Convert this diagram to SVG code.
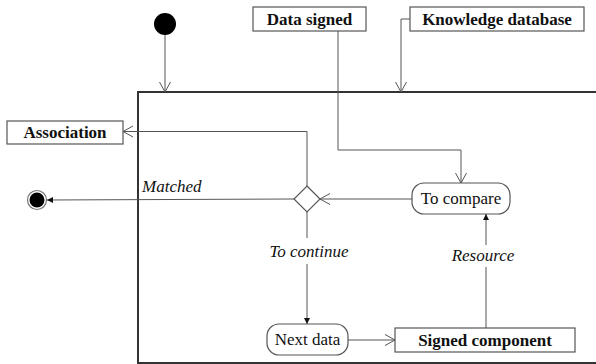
<svg xmlns="http://www.w3.org/2000/svg" width="596" height="364" viewBox="0 0 596 364">
<defs>
<style>
text{font-family:"Liberation Serif","Times New Roman",serif;font-size:17px;fill:#111}
.b{font-weight:bold}
.i{font-style:italic}
.box{fill:#fff;stroke:#555;stroke-width:1.2}
.con{fill:none;stroke:#555;stroke-width:1}
</style>
<marker id="open" markerWidth="14" markerHeight="14" refX="11" refY="6" orient="auto" markerUnits="userSpaceOnUse">
<path d="M1,0.5 L11,6 L1,11.5" fill="none" stroke="#555" stroke-width="1"/>
</marker>
<marker id="fill" markerWidth="8" markerHeight="8" refX="6" refY="3.5" orient="auto" markerUnits="userSpaceOnUse">
<path d="M0,0.5 L6,3.5 L0,6.5 Z" fill="#111"/>
</marker>
</defs>
<rect x="138" y="92" width="470" height="271" fill="none" stroke="#333" stroke-width="2"/>
<g id="start"><circle cx="165" cy="24" r="11" fill="#000"/></g>
<g id="end"><circle cx="37" cy="200" r="9.5" fill="#fff" stroke="#777" stroke-width="1.2"/><circle cx="37" cy="200" r="7.5" fill="#000"/></g>
<g id="data-signed"><rect class="box" x="253" y="7" width="113" height="24"/><text class="b" x="309.5" y="25" text-anchor="middle">Data signed</text></g>
<g id="knowledge"><rect class="box" x="410" y="7" width="174" height="24"/><text class="b" x="497" y="25" text-anchor="middle">Knowledge database</text></g>
<g id="association"><rect class="box" x="7" y="121" width="116" height="23"/><text class="b" x="65" y="137.5" text-anchor="middle">Association</text></g>
<g id="decision"><path class="box" d="M307,186 L320,199 L307,212 L294,199 Z"/></g>
<g id="to-compare"><rect class="box" x="412" y="183" width="98" height="31" rx="12"/><text x="461" y="204" text-anchor="middle">To compare</text></g>
<g id="next-data"><rect class="box" x="267" y="324" width="81" height="31" rx="12"/><text x="307.5" y="345" text-anchor="middle">Next data</text></g>
<g id="signed-component"><rect class="box" x="395" y="328" width="180" height="24"/><text class="b" x="485" y="345.5" text-anchor="middle">Signed component</text></g>
<g id="connectors">
<path class="con" d="M165,35 L165,92" marker-end="url(#open)"/>
<path class="con" d="M410,19 L401,19 L401,92" marker-end="url(#open)"/>
<path class="con" d="M338,31 L338,150 L461,150 L461,183" marker-end="url(#open)"/>
<path class="con" d="M412,199 L320,199" marker-end="url(#open)"/>
<path class="con" d="M307,186 L307,131.5 L123,131.5" marker-end="url(#open)"/>
<path class="con" d="M294,199 L47,200" marker-end="url(#fill)"/>
<path class="con" d="M307,212 L307,238 M307,264 L307,324" marker-end="url(#fill)"/>
<path class="con" d="M348,340 L395,340" marker-end="url(#open)"/>
<path class="con" d="M486,328 L486,267 M486,245 L486,214" marker-end="url(#fill)"/>
<text class="i" x="142" y="192">Matched</text>
<text class="i" x="309" y="257" text-anchor="middle">To continue</text>
<text class="i" x="483" y="261" text-anchor="middle">Resource</text>
</g>
</svg>
